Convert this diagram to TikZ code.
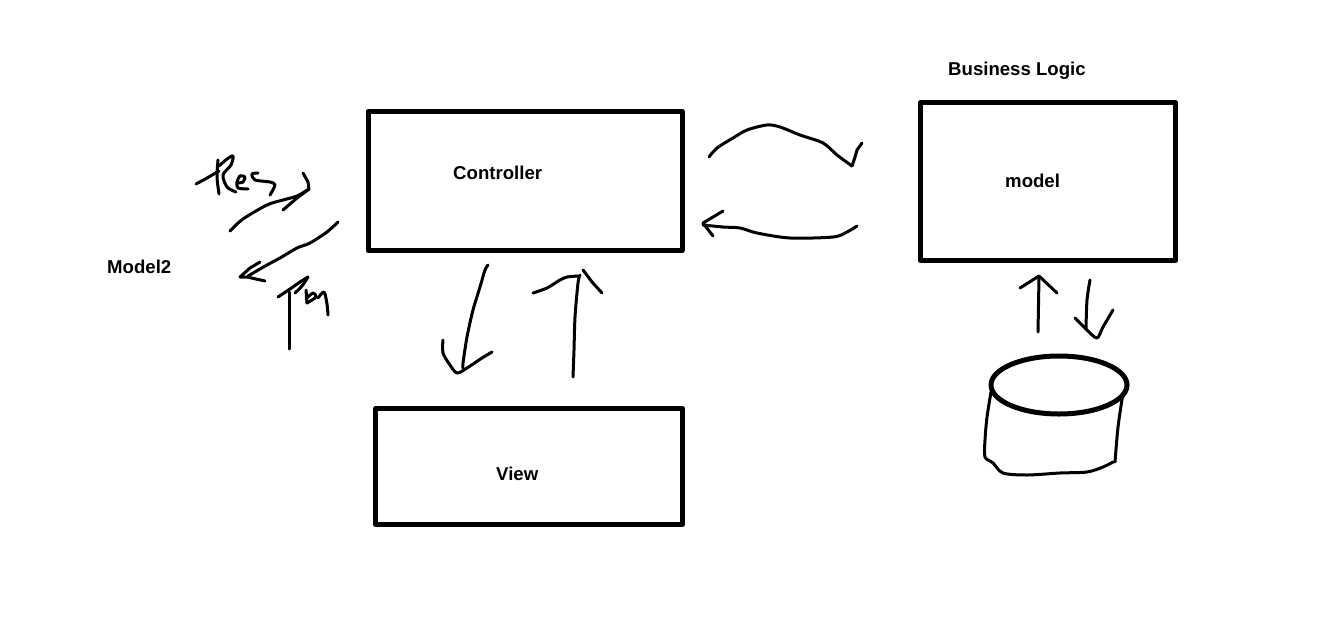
\documentclass[tikz,border=0pt]{standalone}
\usepackage{fontspec}
\setmainfont{Liberation Sans}
\usepackage{tikz}

\begin{document}
\begin{tikzpicture}
		[x=1pt,y=-1pt,line cap=round,line join=round,
		%Styles
		box/.style={draw,line width=5pt,inner sep=0pt,minimum width=#1},
		name text/.style={font=\fontsize{18.6}{22}\selectfont\bfseries,inner sep=0pt,anchor=base west},
		hand/.style={line width=3pt},
		drum/.style={line width=5pt}
		]
		
		%Canvas
		\useasboundingbox (0,0) rectangle (1337,618);
		
		%Boxes
		\node[box=314pt,minimum height=139pt] (ctrl) at (525,181) {};
		\node[box=255pt,minimum height=158pt] (model) at (1048,181.5) {};
		\node[box=307pt,minimum height=116pt] (view) at (529,466.5) {};
		
		%Texts
		\node[name text] (ctrltext) at (453,179) {Controller};
		\node[name text] (modeltext) at (1005,187) {model};
		\node[name text] (viewtext) at (496,480) {View};
		\node[name text] (logictext) at (948,75) {Business Logic};
		\node[name text] (model2text) at (107,273) {Model2};
		
		%Res, handwritten
		\draw[hand] plot[smooth] coordinates {(196,184) (207,178) (219,171)};
		\draw[hand] plot[smooth] coordinates {(218,160) (217,177) (219,194)};
		\draw[hand] plot[smooth] coordinates {(219,166) (227,159) (233,156) (231,165) (223,175) (227,187) (236,192)};
		\draw[hand] plot[smooth] coordinates {(237,183) (243,182) (245,177) (240,176) (237,182) (238,188) (248,189)};
		\draw[hand] plot[smooth] coordinates {(258,173) (252,174) (255,180) (270,182) (275,185) (270,195)};
		\draw[hand] plot[smooth] coordinates {(230,231) (243,219) (267,205) (283,200) (297,196) (309,189)};
		\draw[hand] (303,173) -- (308,182) -- (309,189) -- (297,198) -- (283,210);
		
		%Req, handwritten
		\draw[hand] plot[smooth] coordinates {(338,222) (327,232) (310,243) (297,248) (280,258) (267,265) (248,276)};
		\draw[hand] (260,262) -- (250,268) -- (240,277) -- (247,277) -- (265,281);
		\draw[hand] (289,349) -- (289,292);
		\draw[hand] plot[smooth] coordinates {(278,297) (290,289) (300,282) (308,277)};
		\draw[hand] plot[smooth] coordinates {(308,277) (302,286) (295,293)};
		\draw[hand] plot[smooth] coordinates {(306,290) (307,303)};
		\draw[hand] plot[smooth] coordinates {(307,298) (313,293) (316,297) (307,303)};
		\draw[hand] plot[smooth] coordinates {(318,298) (324,292) (327,304) (328,315)};
		
		%Controller <-> model
		\draw[hand] plot[smooth] coordinates {(709,157) (717,148) (733,138) (747,130) (767,125) (780,127) (800,135) (823,143) (837,155) (852,166)};
		\draw[hand] (852,166) -- (855,157) -- (857,150) -- (862,143);
		\draw[hand] plot[smooth] coordinates {(857,226) (847,232) (833,237) (790,238) (757,233) (740,228) (723,227) (703,225)};
		\draw[hand] (723,211) -- (703,223) -- (713,236);
		
		%Controller <-> View
		\draw[hand] plot[smooth] coordinates {(488,265) (485,270) (480,287) (473,310) (467,337) (463,363) (463,368)};
		\draw[hand] plot[smooth] coordinates {(443,340) (443,353) (450,365) (457,373) (467,368) (482,358) (492,352)};
		\draw[hand] plot[smooth] coordinates {(573,377) (574,350) (575,317) (578,283) (580,275)};
		\draw[hand] plot[smooth] coordinates {(533,293) (547,288) (560,280) (567,277) (578,276)};
		\draw[hand] (583,270) -- (592,282) -- (602,293);
		
		%model <-> database
		\draw[hand] (1038,332) -- (1039,277);
		\draw[hand] (1020,288) -- (1039,276) -- (1057,293);
		\draw[hand] plot[smooth] coordinates {(1090,280) (1087,300) (1086,328)};
		\draw[hand] plot[smooth] coordinates {(1075,318) (1087,330) (1097,338) (1103,327) (1113,310)};
		
		%Database
		\draw[drum] (1059,385) ellipse (68 and 29);
		\draw[hand] plot[smooth] coordinates {(991,392) (987,417) (985,440) (985,457) (993,463) (1003,473) (1027,475) (1060,473) (1087,472) (1103,467) (1113,462)};
		\draw[hand] plot[smooth] coordinates {(1123,393) (1118,427) (1115,462)};
	\end{tikzpicture}
\end{document}
